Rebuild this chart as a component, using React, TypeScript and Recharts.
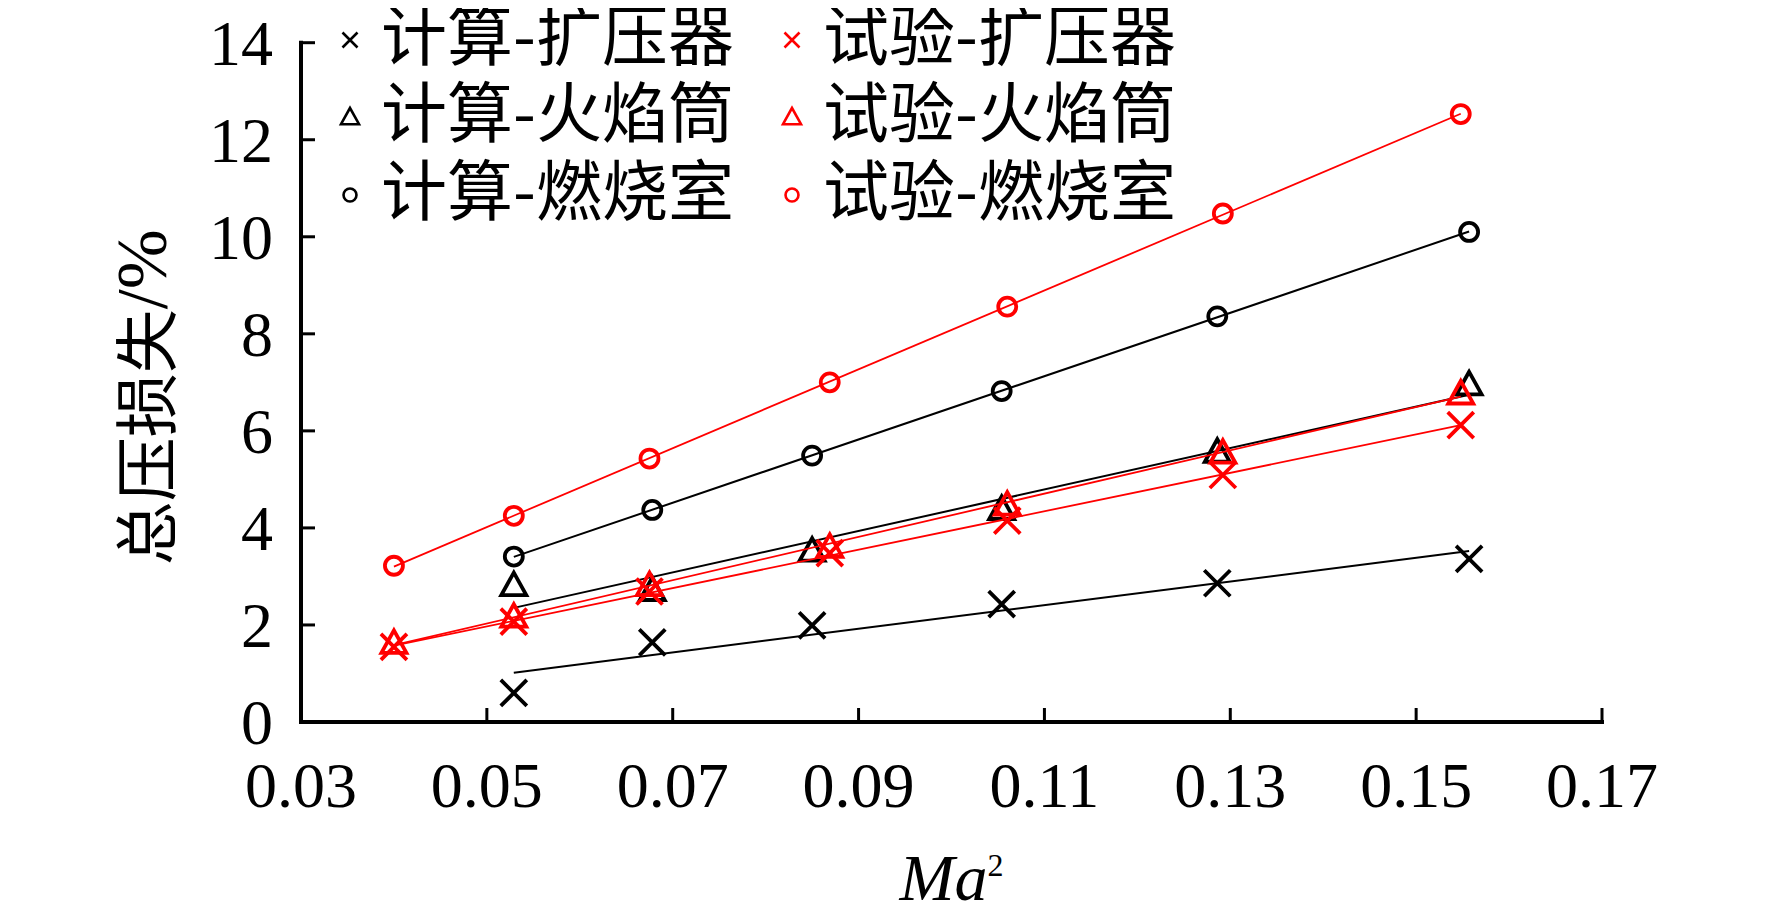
import React from "react";
import { ScatterChart, Scatter, XAxis, YAxis } from "recharts";

// Ma^2 values of the computed and measured cases
const calcMa2 = [0.0529, 0.0678, 0.085, 0.1054, 0.1286, 0.1557];
const testMa2 = [0.04, 0.0529, 0.0675, 0.0869, 0.106, 0.1292, 0.1548];

// total pressure loss, %
const calcDiffuser = [0.6, 1.64, 1.99, 2.43, 2.86, 3.36];
const calcLiner = [2.82, 2.72, 3.53, 4.39, 5.57, 6.96];
const calcCombustor = [3.41, 4.37, 5.49, 6.82, 8.36, 10.1];
const testDiffuser = [1.55, 2.07, 2.69, 3.48, 4.15, 5.09, 6.12];
const testLiner = [1.63, 2.17, 2.82, 3.61, 4.48, 5.55, 6.77];
const testCombustor = [3.22, 4.25, 5.43, 7.0, 8.56, 10.48, 12.53];

const xTicks = [0.03, 0.05, 0.07, 0.09, 0.11, 0.13, 0.15, 0.17];
const yTicks = [0, 2, 4, 6, 8, 10, 12, 14];

const RED = "#ff0000";
const BLACK = "#000000";
const CJK = "'Noto Sans CJK SC', sans-serif";
const SERIF = "'Liberation Serif', 'Times New Roman', serif";

type Marker = "cross" | "triangle" | "circle";

const zip = (xs: number[], ys: number[]) => xs.map((x, i) => ({ x, y: ys[i] }));

const series = [
  { name: "计算-扩压器", data: zip(calcMa2, calcDiffuser), color: BLACK, marker: "cross" as Marker },
  { name: "计算-火焰筒", data: zip(calcMa2, calcLiner), color: BLACK, marker: "triangle" as Marker },
  { name: "计算-燃烧室", data: zip(calcMa2, calcCombustor), color: BLACK, marker: "circle" as Marker },
  { name: "试验-扩压器", data: zip(testMa2, testDiffuser), color: RED, marker: "cross" as Marker },
  { name: "试验-火焰筒", data: zip(testMa2, testLiner), color: RED, marker: "triangle" as Marker },
  { name: "试验-燃烧室", data: zip(testMa2, testCombustor), color: RED, marker: "circle" as Marker },
];

function drawMarker(marker: Marker, cx: number, cy: number, color: string, s: number, sw: number) {
  if (marker === "cross") {
    return (
      <path
        d={`M${cx - s},${cy - s}L${cx + s},${cy + s}M${cx - s},${cy + s}L${cx + s},${cy - s}`}
        stroke={color}
        strokeWidth={sw}
        fill="none"
      />
    );
  }
  if (marker === "triangle") {
    return (
      <path
        d={`M${cx},${cy - s}L${cx - s},${cy + s * 0.8}L${cx + s},${cy + s * 0.8}Z`}
        stroke={color}
        strokeWidth={sw}
        strokeLinejoin="miter"
        fill="none"
      />
    );
  }
  return <circle cx={cx} cy={cy} r={s * 0.72} stroke={color} strokeWidth={sw} fill="none" />;
}

const shapeFor = (marker: Marker, color: string) => (props: any) =>
  drawMarker(marker, props.cx, props.cy, color, marker === "cross" ? 13 : 12.5, 3.8);

const XTick = (props: any) => {
  const { x, y, payload } = props;
  return (
    <g>
      <line x1={x} x2={x} y1={y} y2={y - 14} stroke={BLACK} strokeWidth={3} />
      <text x={x} y={y + 85} textAnchor="middle" fontFamily={SERIF} fontSize={64} fill={BLACK}>
        {payload.value.toFixed(2)}
      </text>
    </g>
  );
};

const YTick = (props: any) => {
  const { x, y, payload } = props;
  return (
    <g>
      <line x1={x} x2={x + 14} y1={y} y2={y} stroke={BLACK} strokeWidth={3} />
      <text x={x - 28} y={y + 22} textAnchor="end" fontFamily={SERIF} fontSize={64} fill={BLACK}>
        {payload.value}
      </text>
    </g>
  );
};

const XLabel = (props: any) => {
  const vb = props.viewBox;
  return (
    <text x={vb.x + vb.width / 2} y={vb.y + 178} textAnchor="middle" fontFamily={SERIF} fontSize={66} fontStyle="italic" fill={BLACK}>
      Ma
      <tspan fontSize={32} dy={-24} fontStyle="normal">2</tspan>
    </text>
  );
};

const YLabel = (props: any) => {
  const vb = props.viewBox;
  const cx = vb.x + 134;
  const cy = vb.y + vb.height / 2 + 15;
  return (
    <text
      x={cx}
      y={cy}
      transform={`rotate(-90, ${cx}, ${cy})`}
      textAnchor="middle"
      dominantBaseline="central"
      fontFamily={CJK}
      fontSize={64}
      fill={BLACK}
    >
      总压损失<tspan fontFamily={SERIF} fontSize={72}>/%</tspan>
    </text>
  );
};

const legendRowsY = [40, 117, 195];
const legendMarkerX = [350, 792];

function LegendOverlay() {
  return (
    <>
      {series.map((s, i) => {
        const col = Math.floor(i / 3);
        const row = i % 3;
        return (
          <div
            key={s.name}
            style={{
              position: "absolute",
              left: legendMarkerX[col] - 8 - 15,
              top: legendRowsY[row] - 8 - 35,
              height: 70,
              display: "flex",
              alignItems: "center",
              whiteSpace: "nowrap",
            }}
          >
            <svg width={30} height={30}>
              {drawMarker(s.marker, 15, 15, s.color, s.marker === "cross" ? 7.5 : 9, 2.6)}
            </svg>
            <span
              style={{
                position: "relative",
                top: -9,
                marginLeft: 16,
                fontFamily: CJK,
                fontSize: 66,
                lineHeight: 1,
                color: BLACK,
              }}
            >
              {s.name}
            </span>
          </div>
        );
      })}
    </>
  );
}

export default function App() {
  return (
    <div style={{ position: "relative", width: 1764, height: 909 }}>
      <ScatterChart width={1764} height={909} margin={{ top: 34.7, right: 170, bottom: 0, left: 0 }}>
        <XAxis
          type="number"
          dataKey="x"
          domain={[0.03, 0.17]}
          ticks={xTicks}
          height={195}
          tickSize={0}
          tickMargin={0}
          tickLine={false}
          tick={<XTick />}
          axisLine={{ stroke: BLACK, strokeWidth: 4, strokeLinecap: "square" }}
          label={{ content: <XLabel /> }}
          interval={0}
        />
        <YAxis
          type="number"
          dataKey="y"
          domain={[0, 14]}
          ticks={yTicks}
          width={293}
          tickSize={0}
          tickMargin={0}
          tickLine={false}
          tick={<YTick />}
          axisLine={{ stroke: BLACK, strokeWidth: 4, strokeLinecap: "square" }}
          label={{ content: <YLabel /> }}
          interval={0}
        />
        {series.map((s) => (
          <Scatter
            key={s.name}
            name={s.name}
            data={s.data}
            fill={s.color}
            line={{ stroke: s.color, strokeWidth: s.color === RED ? 1.8 : 2 }}
            lineType="fitting"
            shape={shapeFor(s.marker, s.color)}
            isAnimationActive={false}
          />
        ))}
      </ScatterChart>
      <LegendOverlay />
    </div>
  );
}
